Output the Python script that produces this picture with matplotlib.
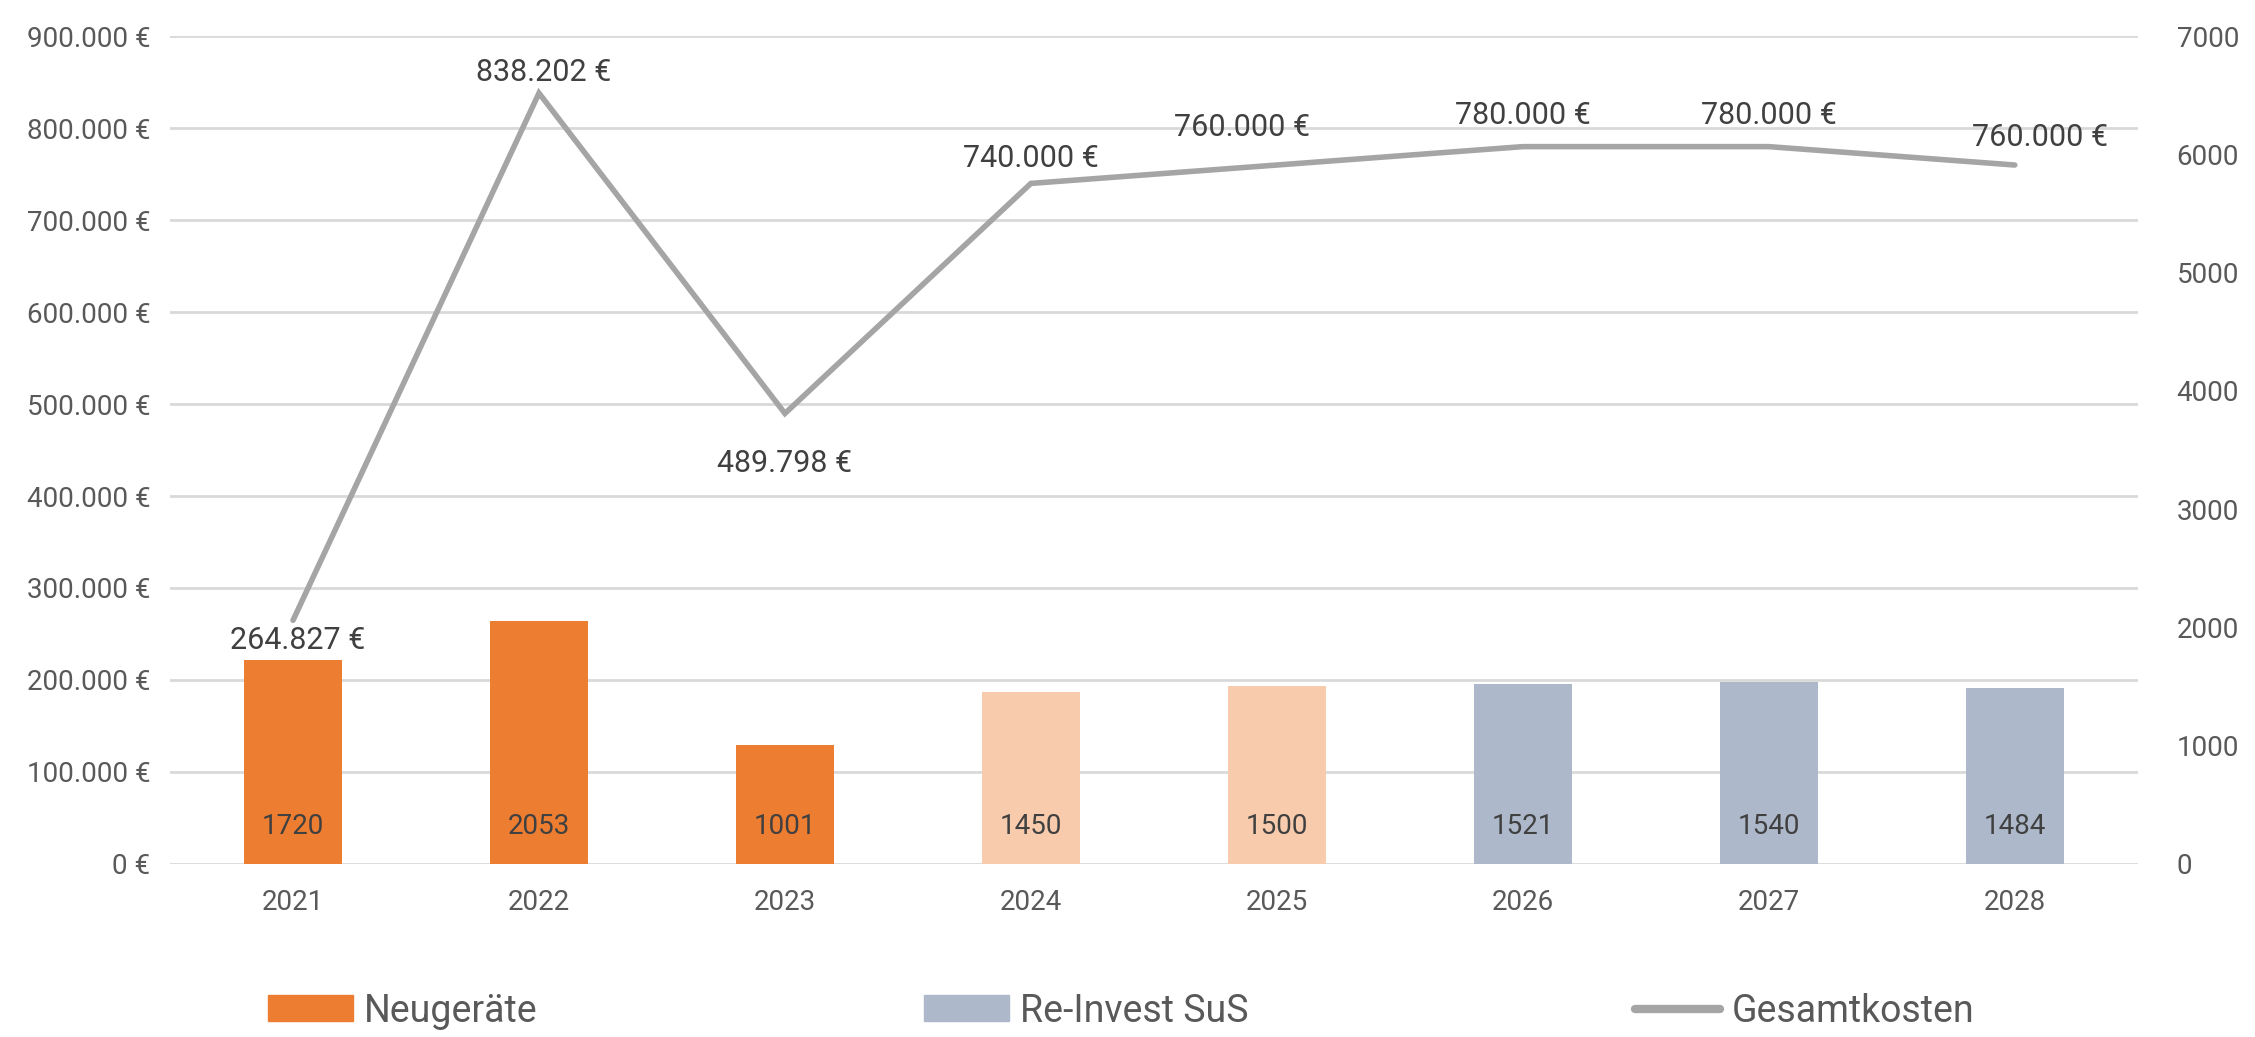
import matplotlib
matplotlib.use("Agg")
import matplotlib.pyplot as plt
from matplotlib.patches import Patch
from matplotlib.lines import Line2D
from matplotlib.ticker import FuncFormatter, MultipleLocator

plt.rcParams['font.family'] = ['Roboto', 'DejaVu Sans']

years = ["2021", "2022", "2023", "2024", "2025", "2026", "2027", "2028"]
devices = [1720, 2053, 1001, 1450, 1500, 1521, 1540, 1484]
total_costs = [264827, 838202, 489798, 740000, 760000, 780000, 780000, 760000]

# style only: bar colour groups and label offsets (px)
ORANGE, LIGHT, BLUE, GREY = "#ED7D31", "#F8CBAD", "#ADB9CA", "#A5A5A5"
bar_colors = [ORANGE, ORANGE, ORANGE, LIGHT, LIGHT, BLUE, BLUE, BLUE]
label_off = [(5, -20), (5, 21), (0, -50), (0, 25), (-35, 38), (0, 31), (0, 31), (25, 28)]


def euro(v, pos=None):
    return f"{int(round(v)):,}".replace(",", ".") + " €"


fig = plt.figure(figsize=(22.55, 10.37), dpi=100)
ax = fig.add_axes([0.0754, 0.167, 0.8726, 0.798])
ax2 = ax.twinx()
ax3 = fig.add_axes(ax.get_position(), sharex=ax, sharey=ax)

x = range(len(years))

# left axis: grid + ticks
ax.set_ylim(0, 900000)
ax.yaxis.set_major_locator(MultipleLocator(100000))
ax.yaxis.set_major_formatter(FuncFormatter(euro))
ax.grid(axis="y", color="#D9D9D9", lw=2)
ax.set_axisbelow(True)
ax.set_xlim(-0.5, len(years) - 0.5)
ax.set_xticks(list(x))
ax.set_xticklabels(years)
for s in ax.spines.values():
    s.set_visible(False)
ax.tick_params(length=0, labelsize=20, colors="#595959", pad=14)
ax.tick_params(axis="x", pad=18)

# right axis: bars
bars = ax2.bar(x, devices, width=0.4, color=bar_colors, zorder=2)
ax2.set_ylim(0, 7000)
ax2.yaxis.set_major_locator(MultipleLocator(1000))
for s in ax2.spines.values():
    s.set_visible(False)
ax2.tick_params(length=0, labelsize=20, colors="#595959", pad=28)
for xi, v in zip(x, devices):
    ax2.annotate(str(v), (xi, 0), xytext=(0, 27), textcoords="offset points",
                 ha="center", va="center", fontsize=20, color="#404040")

# line on the left scale
ax3.patch.set_visible(False)
ax3.axis("off")
ax3.plot(x, total_costs, color=GREY, lw=4, solid_capstyle="round", solid_joinstyle="miter")
for xi, v, (dx, dy) in zip(x, total_costs, label_off):
    ax3.annotate(euro(v), (xi, v), xytext=(dx * 0.72, dy * 0.72), textcoords="offset points",
                 ha="center", va="center", fontsize=22, color="#404040")

handles = [Patch(color=ORANGE), Patch(color=BLUE), Line2D([], [], color=GREY, lw=6, solid_capstyle="round")]
fig.legend(handles, ["Neugeräte", "Re-Invest SuS", "Gesamtkosten"], loc="center",
           bbox_to_anchor=(0.497, 0.025), ncol=3, frameon=False, fontsize=27,
           handlelength=2.27, handleheight=0.69, handletextpad=0.3, columnspacing=10.3,
           labelcolor="#595959")

fig.savefig("out.png", dpi=100)
